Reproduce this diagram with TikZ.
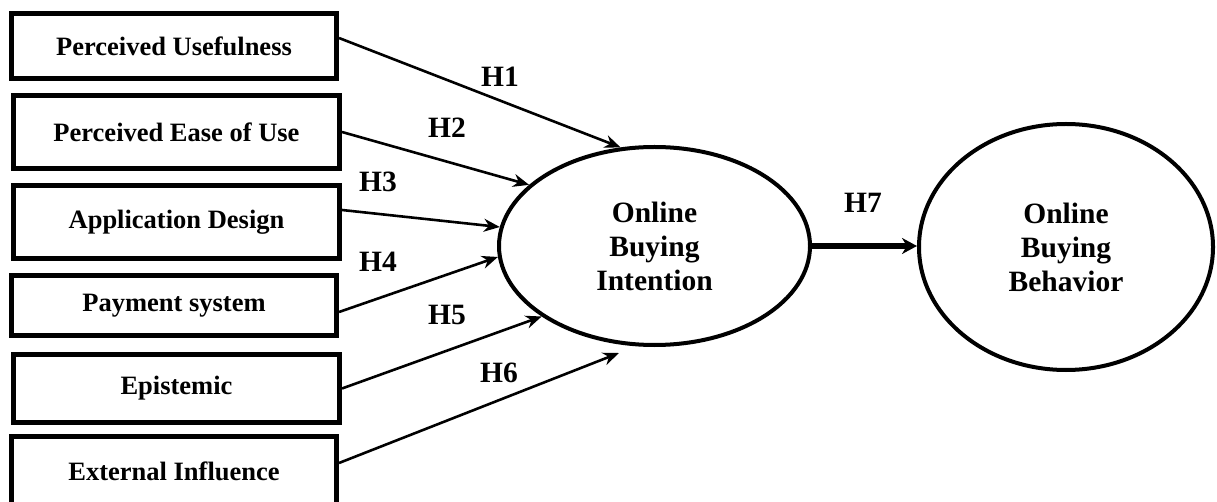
\documentclass[tikz,border=0pt]{standalone}
\usepackage{fontspec}
\setmainfont{Liberation Serif}
\usetikzlibrary{shapes.geometric,arrows.meta}
\begin{document}
\begin{tikzpicture}[x=1pt,y=-1pt,
  box/.style={draw,line width=5pt,rectangle,inner sep=0pt,font=\bfseries\fontsize{26.5}{30}\selectfont},
  construct/.style={draw,line width=4pt,ellipse,inner sep=0pt,align=center,font=\bfseries\fontsize{29.5}{34}\selectfont},
  hyp/.style={line width=2.6pt,-{Stealth[length=16pt,width=13pt]}},
  strongarrow/.style={line width=5.5pt,-{Stealth[length=15pt,width=16pt]}},
  hlabel/.style={font=\bfseries\fontsize{29.5}{34}\selectfont,inner sep=0pt}]
\useasboundingbox (0,0) rectangle (1217,502);
\node[box,minimum width=325pt,minimum height=65pt] (b1) at (174,46) {Perceived Usefulness};
\node[box,minimum width=326pt,minimum height=73pt] (b2) at (176.5,132) {Perceived Ease of Use};
\node[box,minimum width=326pt,minimum height=73pt] (b3) at (176.5,222) {Application Design};
\node[box,minimum width=325pt,minimum height=60pt] (b4) at (174,305.5) {Payment system};
\node[box,minimum width=326pt,minimum height=68pt] (b5) at (176.5,388.5) {Epistemic};
\node[box,minimum width=325pt,minimum height=70pt] (b6) at (174,471) {External Influence};
\node[construct,minimum width=311pt,minimum height=198pt] (obi) at (654.5,246) {Online\\Buying\\Intention};
\node[construct,minimum width=294pt,minimum height=246pt] (obb) at (1066,247) {Online\\Buying\\Behavior};
\coordinate (h6end) at (619,353);
\draw[hyp] ([yshift=8pt]b1.east) -- (obi.109);
\draw[hyp] (b2.east) -- (obi.154);
\draw[hyp] ([yshift=12pt]b3.east) -- (obi.173.5);
\draw[hyp] ([yshift=-6.5pt]b4.east) -- (obi.184);
\draw[hyp] (b5.east) -- (obi.212.7);
\draw[hyp] ([yshift=8pt]b6.east) -- (h6end);
\draw[strongarrow] (obi.east) -- (obi.east -| obb.west);
\node[hlabel] (l1) at (500,77) {H1};
\node[hlabel] (l2) at (447,128) {H2};
\node[hlabel] (l3) at (378,182) {H3};
\node[hlabel] (l4) at (378,262) {H4};
\node[hlabel] (l5) at (447,315) {H5};
\node[hlabel] (l6) at (499,373) {H6};
\node[hlabel] (l7) at (863,203) {H7};
\end{tikzpicture}
\end{document}
